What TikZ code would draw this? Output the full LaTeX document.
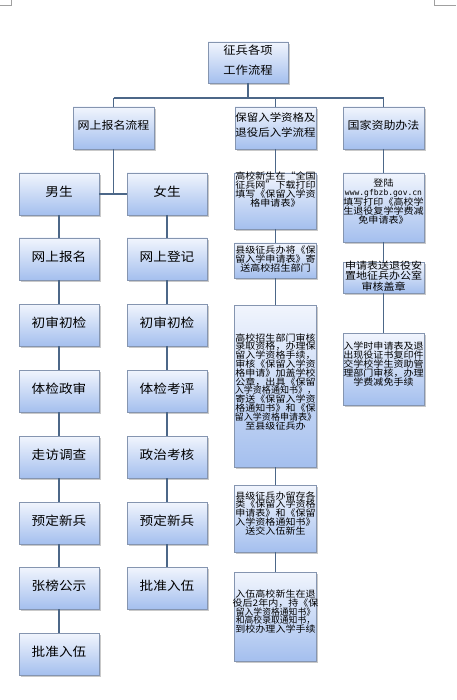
\documentclass[tikz,border=0pt]{standalone}
\usepackage{fontspec}
\usepackage{graphicx}
\newfontfamily\cjk[FakeStretch=1.1]{Noto Sans CJK SC}
\newfontfamily\monof{DejaVu Sans Mono}
\usetikzlibrary{shadows}
\definecolor{boxtop}{HTML}{F1F5FD}
\definecolor{boxbot}{HTML}{A4BFEE}
\definecolor{boxline}{HTML}{8595B0}
\definecolor{linkc}{HTML}{4C6788}
\definecolor{markc}{HTML}{A0A0A0}
\tikzset{
 box/.style={draw=boxline, line width=0.6pt, top color=boxtop, bottom color=boxbot, inner sep=0pt, outer sep=0pt,
   drop shadow={shadow xshift=1.6pt, shadow yshift=-1.6pt, opacity=0.35, fill=black!60}},
 colbox/.style={box, minimum width=80pt, minimum height=42pt, font=\cjk\fontsize{12.4}{14}\selectfont, text height=10pt, text depth=4.6pt},
 headbox/.style={box, minimum width=81pt, minimum height=42pt},
 midbox/.style={box, minimum width=82pt},
 rbox/.style={box, minimum width=81pt},
 link/.style={draw=linkc, line width=1.4pt},
 headtxt/.style={font=\cjk\fontsize{10.9}{15}\selectfont, align=center, inner sep=0pt},
 smalltxt/.style={font=\cjk\fontsize{9.1}{8.8}\selectfont, align=center, inner sep=0pt},
}
\begin{document}
\begin{tikzpicture}[x=1pt,y=-1pt]
\fill[white] (0,0) rectangle (456,700);
\useasboundingbox (0,0) rectangle (456,700);
% corner marks
\draw[markc, line width=0.6pt] (0,5) -- (11,5) -- (11,0);
\draw[markc, line width=0.6pt] (456,5) -- (434,5) -- (434,0);

% top
\node[box, minimum width=80pt, minimum height=41pt] (top) at (248,62.5) {};
\node[font=\cjk\fontsize{11.2}{20}\selectfont, align=center, inner sep=0pt] (toptxt) at (248,60) {征兵各项\\工作流程};

% second row
\node[headbox] (hA) at (113.5,128) {};
\node[headtxt] (hAt) at (113.5,125) {网上报名流程};
\node[headbox] (hB) at (275.5,128) {};
\node[headtxt, font=\cjk\fontsize{10.4}{15}\selectfont] (hBt) at (275.5,125.5) {保留入学资格及\\退役后入学流程};
\node[headbox] (hC) at (383.5,128) {};
\node[headtxt] (hCt) at (383.5,125) {国家资助办法};

% left column (male)
\node[colbox] (a1) at (59,194) {男生};
\node[colbox] (a2) at (59,259) {网上报名};
\node[colbox] (a3) at (59,325) {初审初检};
\node[colbox] (a4) at (59,391) {体检政审};
\node[colbox] (a5) at (59,457) {走访调查};
\node[colbox] (a6) at (59,523) {预定新兵};
\node[colbox] (a7) at (59,588) {张榜公示};
\node[colbox] (a8) at (59,654) {批准入伍};

% second column (female)
\node[colbox] (b1) at (167,194) {女生};
\node[colbox] (b2) at (167,259) {网上登记};
\node[colbox] (b3) at (167,325) {初审初检};
\node[colbox] (b4) at (167,391) {体检考评};
\node[colbox] (b5) at (167,457) {政治考核};
\node[colbox] (b6) at (167,523) {预定新兵};
\node[colbox] (b7) at (167,588) {批准入伍};

% middle column
\node[midbox, minimum height=56pt] (m1) at (275.5,201) {};
\node[smalltxt] (m1t) at (275.5,189.5) {高校新生在“全国\\征兵网”下载打印\\填写《保留入学资\\格申请表》};
\node[midbox, minimum height=35pt] (m2) at (275.5,260.5) {};
\node[smalltxt] (m2t) at (275.5,259) {县级征兵办将《保\\留入学申请表》寄\\送高校招生部门};
\node[midbox, minimum height=162pt] (m3) at (275.5,386) {};
\node[smalltxt] (m3t) at (275.5,381.7) {高校招生部门审核\\录取资格，办理保\\留入学资格手续，\\审核《保留入学资\\格申请》加盖学校\\公章，出具《保留\\\scalebox{0.9}[1]{入学资格通知书》，}\\寄送《保留入学资\\格通知书》和《保\\\scalebox{0.9}[1]{留入学资格申请表》}\\至县级征兵办};
\node[midbox, minimum height=67pt] (m4) at (275.5,518.5) {};
\node[smalltxt] (m4t) at (275.5,513.3) {县级征兵办留存各\\类《保留入学资格\\申请表》和《保留\\入学资格通知书》\\送交入伍新生};
\node[midbox, minimum height=89pt] (m5) at (275.5,616.5) {};
\node[smalltxt] (m5t) at (275.5,611.7) {入伍高校新生在退\\役后2年内，持《保\\\scalebox{0.88}[1]{留入学资格通知书》}\\\scalebox{0.88}[1]{和高校录取通知书，}\\到校办理入学手续};

% right column
\node[rbox, minimum height=69pt] (r1) at (383.5,207.5) {};
\node[smalltxt] (r1t) at (383.5,201.5) {登陆\\{\monof\fontsize{8}{8.8}\selectfont www.gfbzb.gov.cn}\\填写打印《高校学\\生退役复学学费减\\免申请表》};
\node[rbox, minimum height=31pt] (r2) at (383.5,277.5) {};
\node[smalltxt, font=\cjk\fontsize{10}{9.2}\selectfont] (r2t) at (383.5,276) {申请表送退役安\\置地征兵办公室\\审核盖章};
\node[rbox, minimum height=72pt] (r3) at (383.5,369) {};
\node[smalltxt] (r3t) at (383.5,364) {入学时申请表及退\\出现役证书复印件\\交学校学生资助管\\理部门审核，办理\\学费减免手续};

% connectors
\coordinate (bus) at (0,98);
\draw[link] (top.south) -- (top.south |- bus);
\draw[link] (hA.north |- bus) -- (hC.north |- bus);
\draw[link] (hA.north |- bus) -- (hA.north);
\draw[link] (hB.north |- bus) -- (hB.north);
\draw[link] (hC.north |- bus) -- (hC.north);
\draw[link] (hA.south) -- (hA.south |- a1.east);
\draw[link] (a1.east) -- (b1.west);
\foreach \u/\v in {a1/a2,a2/a3,a3/a4,a4/a5,a5/a6,a6/a7,a7/a8,b1/b2,b2/b3,b3/b4,b4/b5,b5/b6,b6/b7,hB/m1,m1/m2,m2/m3,m3/m4,m4/m5,hC/r1,r1/r2,r2/r3}
  \draw[link] (\u.south) -- (\v.north);
\end{tikzpicture}
\end{document}
